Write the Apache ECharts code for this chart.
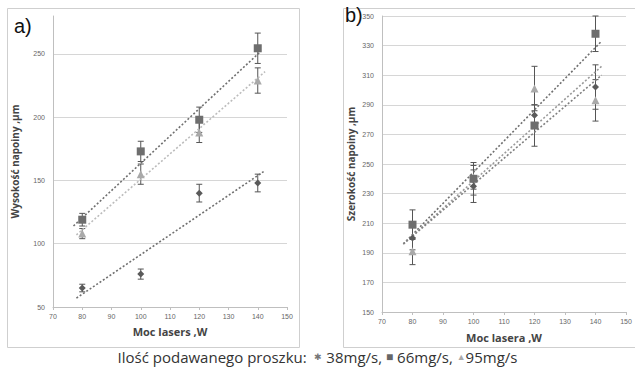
<!DOCTYPE html>
<html>
<head>
<meta charset="utf-8">
<script src="https://cdn.jsdelivr.net/npm/echarts@6/dist/echarts.min.js"></script>
<style>
html, body { margin: 0; padding: 0; background: #fff; }
#main { width: 635px; height: 367px; }
</style>
</head>
<body>
<div id="main"></div>
<script>
var chartDom = document.getElementById('main');
var myChart = echarts.init(chartDom, null, { renderer: 'svg' });

// laser power, W
const power = [80, 100, 120, 140];

// a) bead height, um
const a38 = [65, 76, 140, 148];
const a38err = [3, 4, 7, 7];
const a66 = [119, 173, 198, 254.5];
const a66err = [5, 8, 10, 12];
const a95 = [108, 155, 188, 229];
const a95err = [4, 8, 8, 10];

// b) bead width, um
const b38 = [200, 235, 283, 302];
const b38err = [8, 11, 7, 15];
const b66 = [209, 240, 276, 338];
const b66err = [10, 11, 14, 12];
const b95 = [191, 241, 301, 293];
const b95err = [9, 8, 15, 14];

// trend line end points
const trendA38 = [[78, 57], [142, 157]];
const trendA66 = [[77, 114], [141, 252]];
const trendA95 = [[78, 107], [142.5, 236]];
const trendB38 = [[77, 196], [142, 310]];
const trendB66 = [[77, 196], [142, 333]];
const trendB95 = [[77, 196], [142, 316]];

const xTicks = [70, 150, 10];
const yTicksA = [50, 280, 50];
const yTicksB = [150, 350, 20];

const dark = '#5a5a5a';
const mid = '#6e6e6e';
const light = '#a9a9a9';
const gridColor = '#d6d6d6';

function pts(ys) {
    return power.map((x, i) => [x, ys[i]]);
}
function errs(ys, e) {
    return power.map((x, i) => [x, ys[i] - e[i], ys[i] + e[i]]);
}

function errorSeries(idx, ys, e) {
    return {
        type: 'custom',
        xAxisIndex: idx,
        yAxisIndex: idx,
        data: errs(ys, e),
        z: 1,
        renderItem: function (params, api) {
            const lo = api.coord([api.value(0), api.value(1)]);
            const hi = api.coord([api.value(0), api.value(2)]);
            const w = 3;
            const st = { stroke: '#555', lineWidth: 1 };
            return {
                type: 'group',
                children: [
                    { type: 'line', shape: { x1: lo[0], y1: lo[1], x2: hi[0], y2: hi[1] }, style: st },
                    { type: 'line', shape: { x1: lo[0] - w, y1: lo[1], x2: lo[0] + w, y2: lo[1] }, style: st },
                    { type: 'line', shape: { x1: hi[0] - w, y1: hi[1], x2: hi[0] + w, y2: hi[1] }, style: st }
                ]
            };
        }
    };
}

function markSeries(idx, ys, symbol, size, color) {
    return {
        type: 'scatter',
        xAxisIndex: idx,
        yAxisIndex: idx,
        data: pts(ys),
        symbol: symbol,
        symbolSize: size,
        itemStyle: { color: color, opacity: 1 },
        z: 3
    };
}

function trendSeries(idx, line, color) {
    return {
        type: 'line',
        xAxisIndex: idx,
        yAxisIndex: idx,
        data: line,
        symbol: 'none',
        lineStyle: { color: color, width: 1.6, type: [2, 2] },
        z: 2
    };
}

function xAxis(gi, name, gap) {
    return {
        type: 'value',
        gridIndex: gi,
        min: xTicks[0],
        max: xTicks[1],
        interval: xTicks[2],
        name: name,
        nameLocation: 'middle',
        nameGap: gap,
        nameTextStyle: { fontFamily: 'Open Sans', fontSize: 11, fontWeight: 'bold', color: '#444' },
        axisLine: { lineStyle: { color: '#bfbfbf' } },
        axisTick: { show: true, length: 3, lineStyle: { color: '#bfbfbf' } },
        axisLabel: { fontSize: 7, color: '#666', margin: 6, fontFamily: 'Liberation Sans' },
        splitLine: { show: false }
    };
}

function yAxis(gi, t, name, gap, colors) {
    return {
        type: 'value',
        gridIndex: gi,
        min: t[0],
        max: t[1],
        interval: t[2],
        name: name,
        nameLocation: 'middle',
        nameGap: gap,
        nameRotate: 90,
        nameTextStyle: { fontFamily: 'Open Sans', fontSize: 10, fontWeight: 'bold', color: '#444' },
        axisLine: { show: true, lineStyle: { color: '#bfbfbf' } },
        axisTick: { show: false },
        axisLabel: { fontSize: 7, color: '#666', margin: 8, fontFamily: 'Liberation Sans', showMaxLabel: (t[1] - t[0]) % t[2] === 0 },
        splitLine: { show: true, lineStyle: { color: colors, width: 1 } }
    };
}

var option = {
    animation: false,
    backgroundColor: '#fff',
    grid: [
        { left: 53, right: 348, top: 16, bottom: 60 },
        { left: 382, right: 9, top: 16, bottom: 55 }
    ],
    xAxis: [
        xAxis(0, 'Moc lasers ,W', 19),
        xAxis(1, 'Moc lasera ,W', 20)
    ],
    yAxis: [
        yAxis(0, yTicksA, 'Wysokość napoiny ,µm', 33,
            [gridColor, gridColor, gridColor, gridColor, gridColor, 'rgba(0,0,0,0)']),
        yAxis(1, yTicksB, 'Szerokość napoiny ,µm', 26, gridColor)
    ],
    graphic: [
        { type: 'rect', shape: { x: 7.5, y: 8.5, width: 292, height: 339 }, style: { fill: 'none', stroke: '#cfcfcf', lineWidth: 1 }, silent: true },
        { type: 'rect', shape: { x: 343.5, y: 8.5, width: 300, height: 339 }, style: { fill: 'none', stroke: '#cfcfcf', lineWidth: 1 }, silent: true },
        { type: 'text', left: 14, top: 16, style: { text: 'a)', fontSize: 20, fontFamily: 'Liberation Sans', fill: '#111' } },
        { type: 'text', left: 345, top: 5, style: { text: 'b)', fontSize: 20, fontFamily: 'Liberation Sans', fill: '#111' } },
        {
            type: 'text', left: 'center', top: 349,
            style: {
                text: 'Ilość podawanego proszku:  {d|✱} 38mg/s, {s|■} 66mg/s, {t|▲}95mg/s',
                fontSize: 15, fontFamily: 'Open Sans', fill: '#333',
                rich: {
                    d: { fontSize: 9, fill: '#777' },
                    s: { fontSize: 12, fill: '#666' },
                    t: { fontSize: 9, fill: '#aaa' }
                }
            }
        }
    ],
    series: [
        trendSeries(0, trendA66, '#707070'),
        trendSeries(0, trendA95, '#bcbcbc'),
        trendSeries(0, trendA38, '#707070'),
        errorSeries(0, a38, a38err),
        errorSeries(0, a66, a66err),
        errorSeries(0, a95, a95err),
        markSeries(0, a95, 'triangle', 8, light),
        markSeries(0, a66, 'rect', 8, mid),
        markSeries(0, a38, 'diamond', 7, dark),

        trendSeries(1, trendB66, '#707070'),
        trendSeries(1, trendB95, '#9a9a9a'),
        trendSeries(1, trendB38, '#808080'),
        errorSeries(1, b38, b38err),
        errorSeries(1, b66, b66err),
        errorSeries(1, b95, b95err),
        markSeries(1, b95, 'triangle', 8, light),
        markSeries(1, b66, 'rect', 8, mid),
        markSeries(1, b38, 'diamond', 7, dark)
    ]
};
option && myChart.setOption(option);
</script>
</body>
</html>
